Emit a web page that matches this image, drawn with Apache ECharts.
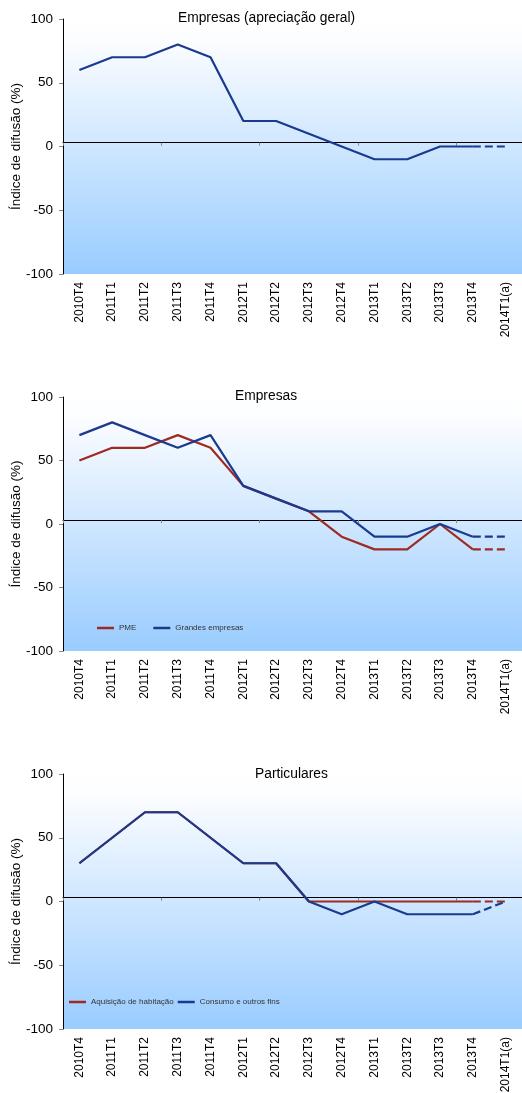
<!DOCTYPE html>
<html>
<head>
<meta charset="utf-8">
<script src="https://cdn.jsdelivr.net/npm/echarts@6/dist/echarts.min.js"></script>
<style>
html,body{margin:0;padding:0;background:#fff;}
#c{width:522px;height:1093px;}
</style>
</head>
<body>
<div id="c"></div>
<script>
// ---- data ----
const categories = ['2010T4','2011T1','2011T2','2011T3','2011T4','2012T1','2012T2','2012T3','2012T4','2013T1','2013T2','2013T3','2013T4','2014T1(a)'];
const yTicks = [-100, -50, 0, 50, 100];

const titles = ['Empresas (apreciação geral)', 'Empresas', 'Particulares'];

// Chart 1
const empresasGeral = [60, 70, 70, 80, 70, 20, 20, 10, 0, -10, -10, 0, 0, 0];
// Chart 2
const pme = [50, 60, 60, 70, 60, 30, 20, 10, -10, -20, -20, 0, -20, -20];
const grandesEmpresas = [70, 80, 70, 60, 70, 30, 20, 10, 10, -10, -10, 0, -10, -10];
// Chart 3
const habitacao = [30, 50, 70, 70, 50, 30, 30, 0, 0, 0, 0, 0, 0, 0];
const consumo = [30, 50, 70, 70, 50, 30, 30, 0, -10, 0, -10, -10, -10, 0];

// last category is a projection (dashed)
const projStart = categories.length - 2;

// ---- chart ----
const BLUE = '#1a3a8f';
const RED = '#9e2a22';
const FONT = '"Liberation Sans", Arial, sans-serif';

const grids = [
  {left: 63, right: 0, top: 19, height: 255},
  {left: 63, right: 0, top: 397, height: 254},
  {left: 63, right: 0, top: 774, height: 255}
];
const titlePos = [{left: 173, top: 6}, {left: 230, top: 384}, {left: 250, top: 762}];

const bg = new echarts.graphic.LinearGradient(0, 0, 0, 1, [
  {offset: 0, color: '#ffffff'},
  {offset: 0.08, color: '#fcfdff'},
  {offset: 1, color: '#99ccff'}
]);

const xAxis = [], yAxis = [], series = [];
grids.forEach((g, gi) => {
  g.show = true;
  g.borderWidth = 0;
  g.backgroundColor = bg;
  g.containLabel = false;
  g.outerBoundsMode = 'none';
  // label axis (bottom)
  xAxis.push({
    gridIndex: gi, type: 'category', data: categories, boundaryGap: true,
    position: 'bottom',
    axisLine: {show: false, onZero: false},
    axisTick: {show: false},
    axisLabel: {rotate: 90, interval: 0, fontSize: 12, color: '#000', margin: 8, fontFamily: FONT},
    splitLine: {show: false}
  });
  // horizontal reference line axis
  xAxis.push({
    gridIndex: gi, type: 'category', data: categories, boundaryGap: true,
    position: 'bottom',
    axisLine: {show: true, onZero: true, onZeroAxisIndex: gi * 2 + 1, lineStyle: {color: '#000', width: 1}},
    axisTick: {show: true, length: 3, inside: false, lineStyle: {color: '#888'}},
    axisLabel: {show: false},
    splitLine: {show: false}
  });
  yAxis.push({
    gridIndex: gi, type: 'value', min: yTicks[0], max: yTicks[yTicks.length - 1], interval: 50,
    axisLine: {show: true, onZero: false, lineStyle: {color: '#000', width: 1}},
    axisTick: {show: true, length: 4, lineStyle: {color: '#888'}},
    axisLabel: {fontSize: 13.5, color: '#000', margin: 10, fontFamily: FONT},
    splitLine: {show: false},
    name: 'Índice de difusão (%)', nameLocation: 'middle', nameGap: 40, nameMoveOverlap: false,
    nameTextStyle: {fontSize: 13.5, color: '#000', fontFamily: FONT}
  });
  yAxis.push({
    gridIndex: gi, type: 'value', min: -103, max: 97, show: false,
    splitLine: {show: false}
  });
});

function addLine(gi, name, data, color, z) {
  series.push({
    name: name, type: 'line', xAxisIndex: gi * 2, yAxisIndex: gi * 2,
    data: data.slice(0, projStart + 1),
    symbol: 'none', lineStyle: {color: color, width: 2.2}, itemStyle: {color: color},
    z: z, silent: true
  });
  series.push({
    name: name + ' ', type: 'line', xAxisIndex: gi * 2, yAxisIndex: gi * 2,
    data: data.map((v, i) => i >= projStart ? v : null),
    symbol: 'none', lineStyle: {color: color, width: 2.2, type: [8, 4]}, itemStyle: {color: color},
    z: z, silent: true
  });
}

addLine(0, titles[0], empresasGeral, BLUE, 3);
addLine(1, 'PME', pme, RED, 2);
addLine(1, 'Grandes empresas', grandesEmpresas, BLUE, 3);
addLine(2, 'Aquisição de habitação', habitacao, RED, 2);
addLine(2, 'Consumo e outros fins', consumo, BLUE, 3);

const legendCommon = {
  orient: 'horizontal', icon: 'rect', itemWidth: 17, itemHeight: 2.5,
  textStyle: {fontSize: 8, color: '#333', fontFamily: FONT},
  selectedMode: false
};

const option = {
  animation: false,
  textStyle: {fontFamily: FONT},
  title: titles.map((t, i) => ({
    text: t, left: titlePos[i].left, top: titlePos[i].top,
    textStyle: {fontSize: 13.8, fontWeight: 'normal', color: '#000', fontFamily: FONT}
  })),
  legend: [
    Object.assign({}, legendCommon, {data: ['PME', 'Grandes empresas'], left: 92, top: 619, itemGap: 17}),
    Object.assign({}, legendCommon, {data: ['Aquisição de habitação', 'Consumo e outros fins'], left: 64, top: 993, itemGap: 4})
  ],
  grid: grids,
  xAxis: xAxis,
  yAxis: yAxis,
  series: series
};

const chart = echarts.init(document.getElementById('c'), null, {renderer: 'canvas'});
chart.setOption(option);
</script>
</body>
</html>
